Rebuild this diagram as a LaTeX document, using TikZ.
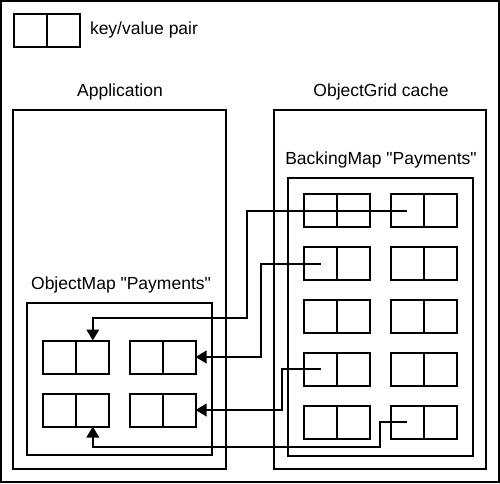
\documentclass[tikz,border=0pt]{standalone}
\usepackage{fontspec}
\setmainfont{Liberation Sans}
\usetikzlibrary{arrows.meta}
\begin{document}
\begin{tikzpicture}[x=1pt,y=-1pt,
  line width=2pt,
  half/.style={draw,rectangle,minimum width=33pt,minimum height=33pt,inner sep=0pt,outer sep=0pt},
  frame/.style={draw,rectangle,inner sep=0pt,outer sep=0pt},
  label/.style={inner sep=0pt,font=\fontsize{17.5}{20}\selectfont},
  conn/.style={line width=2pt},
  arr/.style={conn,-{Triangle[length=11pt,width=12.5pt]}}]
\useasboundingbox (0,0) rectangle (500,483);
\node[frame,minimum width=498pt,minimum height=481pt] (page) at (250,241.5) {};
% legend
\node[half] (lk) at (30,30) {};
\node[half,anchor=west] (lv) at (lk.east) {};
\node[label,anchor=west] (lt) at (89,30) {key/value pair};
% big boxes
\node[label] (apptitle) at (120,92) {Application};
\node[frame,minimum width=213pt,minimum height=359pt] (app) at (119.5,289.5) {};
\node[label] (omtitle) at (121,285) {ObjectMap \textquotedbl Payments\textquotedbl};
\node[frame,minimum width=185pt,minimum height=152pt] (om) at (119.5,379) {};
\node[label] (ogtitle) at (381,92) {ObjectGrid cache};
\node[frame,minimum width=212pt,minimum height=359pt] (og) at (380,289.5) {};
\node[label] (bmtitle) at (381,160) {BackingMap \textquotedbl Payments\textquotedbl};
\node[frame,minimum width=185pt,minimum height=278pt] (bm) at (380,316.5) {};
% application map pairs
\node[half] (ak1) at (59.8,357) {};
\node[half,anchor=west] (av1) at (ak1.east) {};
\node[half] (ak2) at (146,357) {};
\node[half,anchor=west] (av2) at (ak2.east) {};
\node[half] (ak3) at (59.8,410) {};
\node[half,anchor=west] (av3) at (ak3.east) {};
\node[half] (ak4) at (146,410) {};
\node[half,anchor=west] (av4) at (ak4.east) {};
% backing map pairs
\foreach \r/\y in {1/210.8,2/263.6,3/316.5,4/369.4,5/422.3}{
  \node[half] (bk\r1) at (320.7,\y) {};
  \node[half,anchor=west] (bv\r1) at (bk\r1.east) {};
  \node[half] (bk\r2) at (407,\y) {};
  \node[half,anchor=west] (bv\r2) at (bk\r2.east) {};
}
% connectors
\coordinate (c1) at (247,317.7);
\coordinate (c2) at (261.3,357);
\coordinate (c3) at (282.3,410);
\coordinate (c4) at (380,447);
\draw[arr] (bk12.center) -| (c1) -| (av1.north);
\draw[arr] (bk21.center) -| (c2) |- (av2.east);
\draw[arr] (bk41.center) -| (c3) |- (av4.east);
\draw[arr] (bk52.center) -| (c4) -| (av3.south);
\end{tikzpicture}
\end{document}
